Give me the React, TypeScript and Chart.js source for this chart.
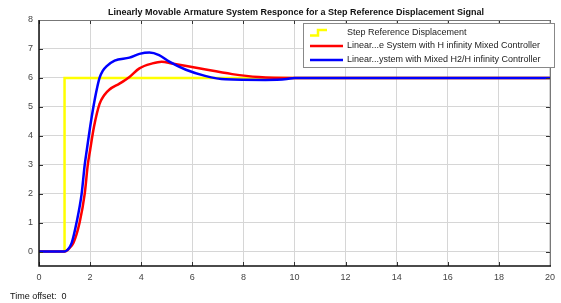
import React, { useEffect, useRef } from "react";
import { Chart, registerables } from "chart.js";

Chart.register(...registerables);

const titleText =
  "Linearly Movable Armature System Responce for a Step Reference Displacement Signal";
const offsetText = "Time offset:  0";

const refLabel = "Step Reference Displacement";
const hInfLabel = "Linear...e System with H infinity Mixed Controller";
const mixedLabel = "Linear...ystem with Mixed H2/H infinity Controller";

const xTicks = [0, 2, 4, 6, 8, 10, 12, 14, 16, 18, 20];
const yTicks = [0, 1, 2, 3, 4, 5, 6, 7, 8];

const refT = [0, 1, 1, 20];
const refY = [0, 0, 6, 6];

const hInfT = [0, 1.0, 1.15, 1.35, 1.59, 1.79, 1.91, 2.0, 2.15, 2.37, 2.55, 2.76, 3.15, 3.54, 3.93, 4.44, 4.8, 5.2, 6.26, 7.56, 8.6, 10, 20];
const hInfY = [0, 0, 0.08, 0.3, 1.0, 2.0, 3.0, 3.5, 4.3, 5.1, 5.4, 5.6, 5.8, 6.03, 6.33, 6.5, 6.56, 6.5, 6.33, 6.13, 6.03, 6.0, 6.0];

const mixedT = [0, 1.0, 1.12, 1.28, 1.47, 1.67, 1.79, 1.87, 2.0, 2.13, 2.26, 2.37, 2.5, 2.64, 2.96, 3.54, 3.93, 4.32, 4.7, 5.1, 5.75, 6.5, 7.3, 8.86, 9.7, 10, 20];
const mixedY = [0, 0, 0.06, 0.3, 1.0, 2.0, 3.0, 3.5, 4.3, 5.0, 5.6, 6.0, 6.25, 6.4, 6.6, 6.7, 6.83, 6.88, 6.79, 6.56, 6.28, 6.07, 5.95, 5.93, 5.96, 6.0, 6.0];

const zip = (t: number[], y: number[]) => t.map((v, i) => ({ x: v, y: y[i] }));

const FONT = "'Liberation Sans', Arial, sans-serif";

const decorPlugin = {
  id: "decor",
  afterDraw(chart: any) {
    const { ctx, chartArea } = chart;
    const { left, right, top, bottom } = chartArea;
    const xs = chart.scales.x;
    const ys = chart.scales.y;
    ctx.save();
    // inner tick marks
    ctx.strokeStyle = "#333";
    ctx.lineWidth = 1;
    ctx.beginPath();
    xTicks.forEach((v) => {
      const px = Math.round(xs.getPixelForValue(v)) + 0.5;
      ctx.moveTo(px, top);
      ctx.lineTo(px, top + 4);
      ctx.moveTo(px, bottom);
      ctx.lineTo(px, bottom - 4);
    });
    yTicks.forEach((v) => {
      const py = Math.round(ys.getPixelForValue(v)) + 0.5;
      ctx.moveTo(left, py);
      ctx.lineTo(left + 4, py);
      ctx.moveTo(right, py);
      ctx.lineTo(right - 4, py);
    });
    ctx.stroke();
    // frame
    ctx.strokeStyle = "#777";
    ctx.lineWidth = 1;
    ctx.beginPath();
    ctx.moveTo(left, top + 0.5);
    ctx.lineTo(right + 0.5, top + 0.5);
    ctx.lineTo(right + 0.5, bottom);
    ctx.stroke();
    ctx.strokeStyle = "#111";
    ctx.lineWidth = 1.5;
    ctx.beginPath();
    ctx.moveTo(left, top);
    ctx.lineTo(left, bottom);
    ctx.lineTo(right + 1, bottom);
    ctx.stroke();

    // title
    ctx.fillStyle = "#111";
    ctx.font = `bold 9px ${FONT}`;
    ctx.textAlign = "center";
    ctx.textBaseline = "middle";
    ctx.fillText(titleText, 296, 13);

    // time offset
    ctx.font = `9px ${FONT}`;
    ctx.textAlign = "left";
    ctx.fillText(offsetText, 10, 297);

    // legend
    const lx = 303, ly = 23, lw = 251, lh = 44;
    ctx.fillStyle = "#fff";
    ctx.fillRect(lx, ly, lw, lh);
    ctx.strokeStyle = "#888";
    ctx.lineWidth = 1;
    ctx.strokeRect(lx + 0.5, ly + 0.5, lw, lh);
    const ds = chart.data.datasets;
    const rows = [33, 46, 60];
    ctx.font = `9px ${FONT}`;
    ctx.textBaseline = "middle";
    ds.forEach((d: any, i: number) => {
      const y = rows[i];
      ctx.strokeStyle = d.borderColor;
      ctx.lineWidth = 2.5;
      ctx.beginPath();
      if (i === 0) {
        ctx.moveTo(310, y + 2.5);
        ctx.lineTo(318, y + 2.5);
        ctx.lineTo(318, y - 3);
        ctx.lineTo(327, y - 3);
      } else {
        ctx.moveTo(310, y);
        ctx.lineTo(343, y);
      }
      ctx.stroke();
      ctx.fillStyle = "#222";
      ctx.fillText(d.label, 347, y);
    });
    ctx.restore();
  },
};

export default function App() {
  const ref = useRef<HTMLCanvasElement | null>(null);
  useEffect(() => {
    if (!ref.current) return;
    const chart = new Chart(ref.current, {
      type: "line",
      data: {
        datasets: [
          {
            label: refLabel,
            data: zip(refT, refY),
            borderColor: "#ffff00",
            borderWidth: 2.5,
            pointRadius: 0,
            tension: 0,
            order: 2,
          },
          {
            label: hInfLabel,
            data: zip(hInfT, hInfY),
            borderColor: "#ff0000",
            borderWidth: 2.5,
            pointRadius: 0,
            cubicInterpolationMode: "monotone",
            order: 1,
          },
          {
            label: mixedLabel,
            data: zip(mixedT, mixedY),
            borderColor: "#0000ff",
            borderWidth: 2.5,
            pointRadius: 0,
            cubicInterpolationMode: "monotone",
            order: 0,
          },
        ],
      },
      options: {
        responsive: false,
        animation: false,
        layout: { padding: { left: 0, right: 7, top: 20, bottom: 17 } },
        plugins: {
          legend: { display: false },
          title: { display: false },
          tooltip: { enabled: false },
        },
        scales: {
          x: {
            type: "linear",
            min: 0,
            max: 20,
            afterBuildTicks: (s: any) => {
              s.ticks = xTicks.map((v) => ({ value: v }));
            },
            afterFit: (s: any) => {
              s.height = 20;
            },
            ticks: {
              font: { family: FONT, size: 9 },
              color: "#444",
              padding: 6,
              maxRotation: 0,
            },
            grid: { color: "#d6d6d6", drawTicks: false },
            border: { display: false },
          },
          y: {
            type: "linear",
            min: -0.5,
            max: 8,
            afterBuildTicks: (s: any) => {
              s.ticks = yTicks.map((v) => ({ value: v }));
            },
            afterFit: (s: any) => {
              s.width = 39;
            },
            ticks: {
              font: { family: FONT, size: 9 },
              color: "#444",
              padding: 6,
            },
            grid: { color: "#d6d6d6", drawTicks: false },
            border: { display: false },
          },
        },
      },
      plugins: [decorPlugin],
    });
    return () => chart.destroy();
  }, []);
  return (
    <div style={{ position: "absolute", left: 0, top: 0, width: 561, height: 303, background: "#fff" }}>
      <canvas ref={ref} width={561} height={303} />
    </div>
  );
}
